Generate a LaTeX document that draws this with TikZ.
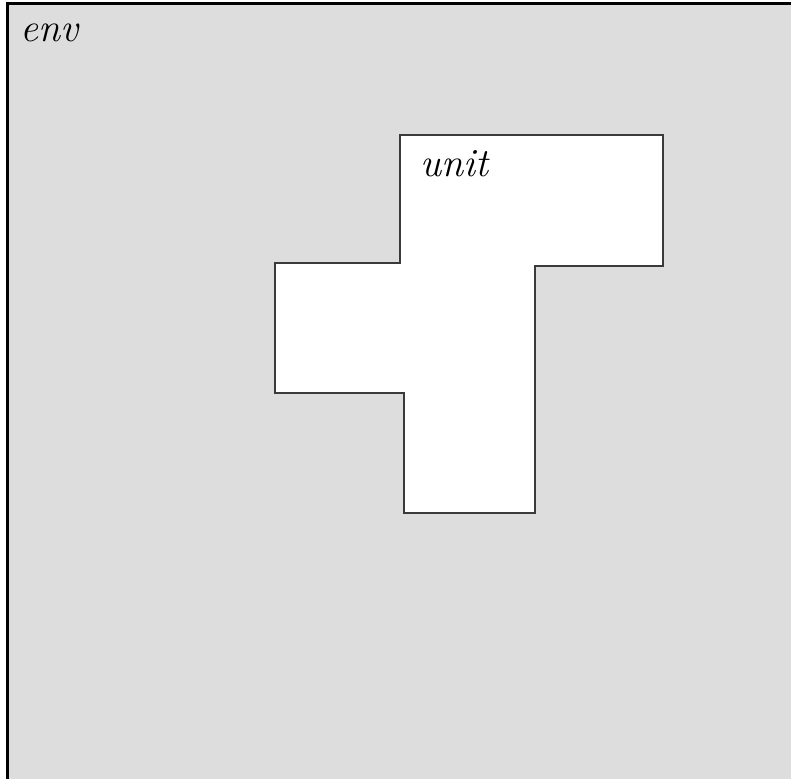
\documentclass[tikz,border=0pt]{standalone}
\definecolor{envgray}{HTML}{DDDDDD}
\definecolor{edgegray}{HTML}{3A3A3A}
\tikzset{
  lbl/.style={anchor=base west, inner sep=0pt, font=\fontsize{40}{48}\selectfont\itshape},
  envbox/.style={fill=envgray, draw=black, line width=3pt},
  unitshape/.style={fill=white, draw=edgegray, line width=2pt, line join=miter}
}
\begin{document}
\begin{tikzpicture}[x=1pt,y=-1pt]
\useasboundingbox (0,0) rectangle (791,778);
\clip (0,0) rectangle (791,778);
\fill[white] (0,0) rectangle (791,778);
\draw[envbox] (7.5,3.8) rectangle (800,790);
\draw[unitshape] (400,135.5) -- (663,135.5) -- (663,266) -- (535.3,266) -- (535.3,513.3)
  -- (403.7,513.3) -- (403.7,392.5) -- (275,392.5) -- (275,262.5) -- (400,262.5) -- cycle;
\node[lbl] (env) at (20,42) {env};
\node[lbl] (unit) at (420,176) {unit};
\end{tikzpicture}
\end{document}
